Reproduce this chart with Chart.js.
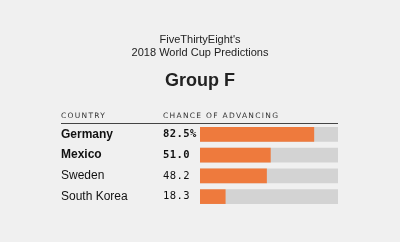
<!DOCTYPE html>
<html>
<head>
<meta charset="utf-8">
<script src="https://cdn.jsdelivr.net/npm/chart.js@4"></script>
<style>
  html, body { margin: 0; padding: 0; background: #f0f0f0; }
  #wrap { position: relative; width: 400px; height: 242px; }
</style>
</head>
<body>
<div id="wrap"><canvas id="chart" width="400" height="242"></canvas></div>
<script>
// Data
const countries = ['Germany', 'Mexico', 'Sweden', 'South Korea'];
const chances = [82.5, 51.0, 48.2, 18.3];
const chanceLabels = ['82.5%', '51.0', '48.2', '18.3'];
const scaleMax = 100;

const boldRows = ['Germany', 'Mexico'];
const orange = '#ee7a3d';
const track = '#d3d3d3';

// draws titles, headers, country names and numbers
const textPlugin = {
    id: 'tableText',
    afterDraw(chart) {
        const ctx = chart.ctx;
        const area = chart.chartArea;
        const yScale = chart.scales.y;
        ctx.save();
        ctx.fillStyle = '#222';
        ctx.textAlign = 'center';
        ctx.textBaseline = 'middle';
        ctx.font = "11px 'Liberation Sans', Arial, sans-serif";
        ctx.fillText("FiveThirtyEight's", 200, 40);
        ctx.fillText('2018 World Cup Predictions', 200, 53);
        ctx.font = "bold 18px 'Liberation Sans', Arial, sans-serif";
        ctx.fillText('Group F', 200, 81);

        // header row
        ctx.textAlign = 'left';
        ctx.fillStyle = '#333';
        ctx.font = "7.5px 'DejaVu Sans', sans-serif";
        ctx.letterSpacing = '1.3px';
        ctx.fillText('COUNTRY', 61, 116);
        ctx.fillText('CHANCE OF ADVANCING', 163, 116);
        ctx.letterSpacing = '0px';

        ctx.strokeStyle = '#444';
        ctx.lineWidth = 1;
        ctx.beginPath();
        ctx.moveTo(61, 123.5);
        ctx.lineTo(area.right, 123.5);
        ctx.stroke();

        countries.forEach((c, i) => {
            const y = yScale.getPixelForValue(i);
            const bold = boldRows.includes(c);
            ctx.fillStyle = '#111';
            ctx.font = (bold ? 'bold ' : '') + "12px 'Liberation Sans', Arial, sans-serif";
            ctx.fillText(c, 61, y);
            ctx.font = (bold ? 'bold ' : '') + "10.5px 'DejaVu Sans Mono', monospace";
            ctx.letterSpacing = '0.4px';
            ctx.fillText(chanceLabels[i], 163, y);
            ctx.letterSpacing = '0px';
        });
        ctx.restore();
    }
};

new Chart(document.getElementById('chart'), {
    type: 'bar',
    data: {
        labels: countries,
        datasets: [{
            data: chances,
            backgroundColor: orange,
            barThickness: 14,
            grouped: false,
            order: 1
        }, {
            data: countries.map(() => scaleMax),
            backgroundColor: track,
            barThickness: 14,
            grouped: false,
            order: 2
        }]
    },
    options: {
        indexAxis: 'y',
        responsive: false,
        animation: false,
        layout: {
            padding: { left: 200, right: 62, top: 124, bottom: 35 }
        },
        plugins: {
            legend: { display: false },
            tooltip: { enabled: false }
        },
        scales: {
            x: { display: false, min: 0, max: scaleMax },
            y: { display: false }
        }
    },
    plugins: [textPlugin]
});
</script>
</body>
</html>
